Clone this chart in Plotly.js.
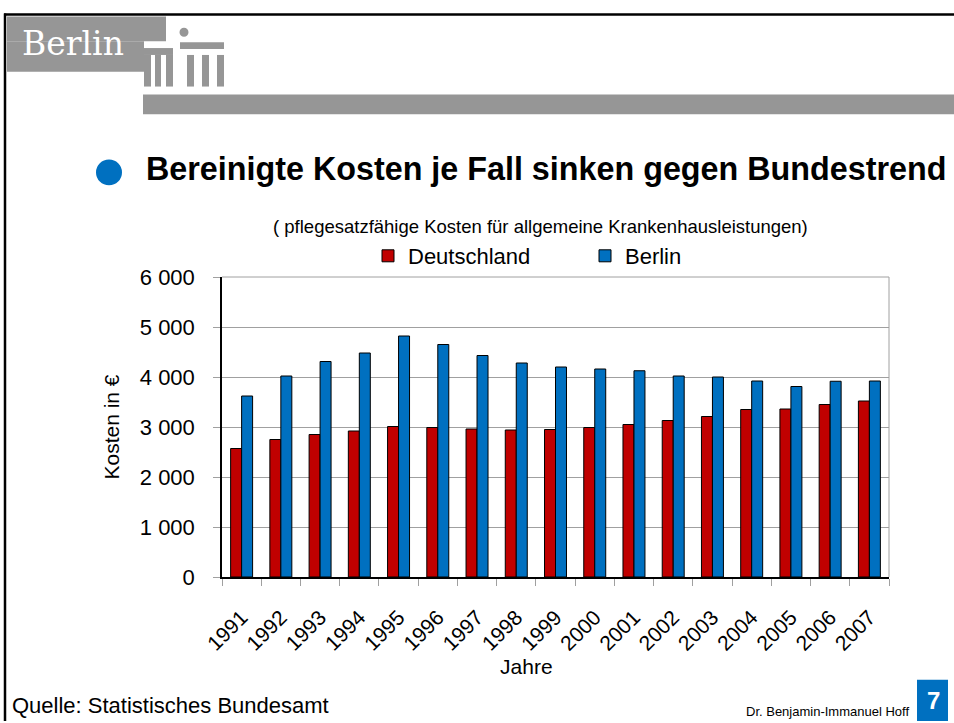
<!DOCTYPE html>
<html>
<head>
<meta charset="utf-8">
<script src="https://cdn.plot.ly/plotly-3.0.1.min.js"></script>
<style>
  html, body { margin: 0; padding: 0; background: #fff; }
  #chart { width: 954px; height: 723px; }
</style>
</head>
<body>
<div id="chart"></div>
<script>
// ---- data ----
const years = ['1991','1992','1993','1994','1995','1996','1997','1998','1999','2000','2001','2002','2003','2004','2005','2006','2007'];
const deutschland = [2570, 2750, 2850, 2920, 3010, 2990, 2960, 2940, 2950, 2990, 3050, 3130, 3210, 3350, 3360, 3450, 3520];
const berlin = [3620, 4020, 4310, 4480, 4820, 4650, 4430, 4280, 4200, 4160, 4125, 4020, 4000, 3920, 3810, 3915, 3920];
const seriesNames = ['Deutschland', 'Berlin'];
const slideTitle = 'Bereinigte Kosten je Fall sinken gegen Bundestrend';
const chartSubtitle = '( pflegesatzfähige Kosten für allgemeine Krankenhausleistungen)';
const yTitle = 'Kosten in €';
const xTitle = 'Jahre';
const sourceText = 'Quelle: Statistisches Bundesamt';
const authorText = 'Dr. Benjamin-Immanuel Hoff';
const pageNo = '7';

// ---- layout geometry (pixels) ----
const W = 954, H = 723;
const L = 222, R = 889, T = 273, B = 577;
const PW = R - L, PH = B - T;
const px = x => (x - L) / PW;      // pixel -> paper x
const py = y => (B - y) / PH;      // pixel -> paper y

const FONT = 'Liberation Sans, Arial, sans-serif';
const GRAY = '#969696';
const RED = '#c00000';
const BLUE = '#0070c0';

const traces = [
  { type: 'bar', name: seriesNames[0], x: years, y: deutschland,
    marker: { color: RED, line: { color: '#000', width: 1 } }, hoverinfo: 'x+y' },
  { type: 'bar', name: seriesNames[1], x: years, y: berlin,
    marker: { color: BLUE, line: { color: '#000', width: 1 } }, hoverinfo: 'x+y' }
];

function rectPx(x0, y0, x1, y1, color) {
  return { type: 'rect', xref: 'paper', yref: 'paper', layer: 'above',
    x0: px(x0), x1: px(x1), y0: py(y1), y1: py(y0),
    fillcolor: color, line: { width: 0 } };
}
function linePx(x0, y0, x1, y1, color, w) {
  return { type: 'line', xref: 'paper', yref: 'paper', layer: 'above',
    x0: px(x0), x1: px(x1), y0: py(y0), y1: py(y1),
    line: { color: color, width: w } };
}
function circlePx(cx, cy, r, color) {
  return { type: 'circle', xref: 'paper', yref: 'paper', layer: 'above',
    x0: px(cx - r), x1: px(cx + r), y0: py(cy + r), y1: py(cy - r),
    fillcolor: color, line: { width: 0 } };
}

const shapes = [
  // slide frame
  linePx(4, 7, 954, 7, '#000', 2.5),
  linePx(5, 6, 5, 723, '#000', 2.5),
  // Berlin logo box
  rectPx(7, 9, 166, 34, GRAY),
  rectPx(7, 34, 144, 65, GRAY),
  rectPx(144, 41, 173, 48, GRAY),
  rectPx(180, 35, 224, 42, GRAY),
  circlePx(184, 25, 4.5, GRAY),
  rectPx(144, 48, 151, 80, GRAY),
  rectPx(155, 48, 161, 80, GRAY),
  rectPx(166, 48, 173, 80, GRAY),
  rectPx(187, 48, 194, 80, GRAY),
  rectPx(202, 48, 209, 80, GRAY),
  rectPx(217, 48, 224, 80, GRAY),
  // header bar
  rectPx(143, 88, 954, 108, GRAY),
  // bullet
  circlePx(109, 167, 13, BLUE),
  // plot frame (top/right gray)
  { type: 'line', xref: 'paper', yref: 'paper', layer: 'below', x0: 0, x1: 1, y0: 1, y1: 1, line: { color: '#a0a0a0', width: 1 } },
  { type: 'line', xref: 'paper', yref: 'paper', layer: 'below', x0: 1, x1: 1, y0: 0, y1: 1, line: { color: '#a0a0a0', width: 1 } },
  // page number box
  rectPx(917, 681, 948, 723, BLUE)
];

const annotations = [
  { text: 'Berlin', xref: 'paper', yref: 'paper', x: px(20), y: py(36), xanchor: 'left', yanchor: 'middle',
    showarrow: false, font: { family: 'DejaVu Serif, serif', size: 33, color: '#fff' } },
  { text: chartSubtitle, xref: 'paper', yref: 'paper', x: px(540), y: py(222), xanchor: 'center', yanchor: 'middle',
    showarrow: false, font: { family: FONT, size: 18.5, color: '#000' } },
  { text: sourceText, xref: 'paper', yref: 'paper', x: px(10), y: py(707), xanchor: 'left', yanchor: 'middle',
    showarrow: false, font: { family: FONT, size: 22, color: '#000' } },
  { text: authorText, xref: 'paper', yref: 'paper', x: px(911), y: py(713), xanchor: 'right', yanchor: 'middle',
    showarrow: false, font: { family: FONT, size: 13, color: '#000' } },
  { text: '<b>' + pageNo + '</b>', xref: 'paper', yref: 'paper', x: px(933), y: py(702), xanchor: 'center', yanchor: 'middle',
    showarrow: false, font: { family: FONT, size: 24, color: '#fff' } }
];

const layout = {
  width: W, height: H,
  margin: { l: L, r: W - R, t: T, b: H - B, pad: 0 },
  paper_bgcolor: '#fff', plot_bgcolor: '#fff',
  separators: ', ',
  font: { family: FONT, color: '#000' },
  title: { text: '<b>' + slideTitle + '</b>', xref: 'container', yref: 'container',
    x: 146 / W, xanchor: 'left', y: 1 - 169 / H, yanchor: 'middle',
    font: { family: FONT, size: 32.3, color: '#000' } },
  barmode: 'group', bargap: 0.44, bargroupgap: 0,
  showlegend: true,
  legend: { orientation: 'h', xref: 'container', yref: 'container',
    x: 368 / W, xanchor: 'left', y: 1 - 256 / H, yanchor: 'middle',
    font: { family: FONT, size: 22, color: '#000' },
    entrywidth: 172, entrywidthmode: 'pixels',
    bgcolor: 'rgba(0,0,0,0)', borderwidth: 0, traceorder: 'normal' },
  xaxis: {
    type: 'category', automargin: false,
    showline: true, linecolor: '#000', linewidth: 1.5,
    ticks: 'outside', tickson: 'boundaries', ticklen: 7, tickcolor: '#a0a0a0', tickwidth: 1,
    tickangle: -45, ticklabelstandoff: 18,
    tickfont: { family: FONT, size: 21, color: '#000' },
    showgrid: false, zeroline: false,
    title: { text: xTitle + '&nbsp;'.repeat(10), standoff: 0, font: { family: FONT, size: 21, color: '#000' } }
  },
  yaxis: {
    range: [0, 6000], dtick: 1000, tick0: 0, tickformat: ',d', automargin: false,
    showline: true, linecolor: '#000', linewidth: 1.5,
    ticks: 'outside', ticklen: 7, tickcolor: '#a0a0a0', tickwidth: 1,
    ticklabelstandoff: 14,
    tickfont: { family: FONT, size: 22, color: '#000' },
    showgrid: true, gridcolor: '#a0a0a0', gridwidth: 1, zeroline: false,
    title: { text: yTitle, standoff: 14, font: { family: FONT, size: 21, color: '#000' } }
  },
  shapes: shapes,
  annotations: annotations
};

Plotly.newPlot('chart', traces, layout, { displayModeBar: false, responsive: false });
</script>
</body>
</html>
